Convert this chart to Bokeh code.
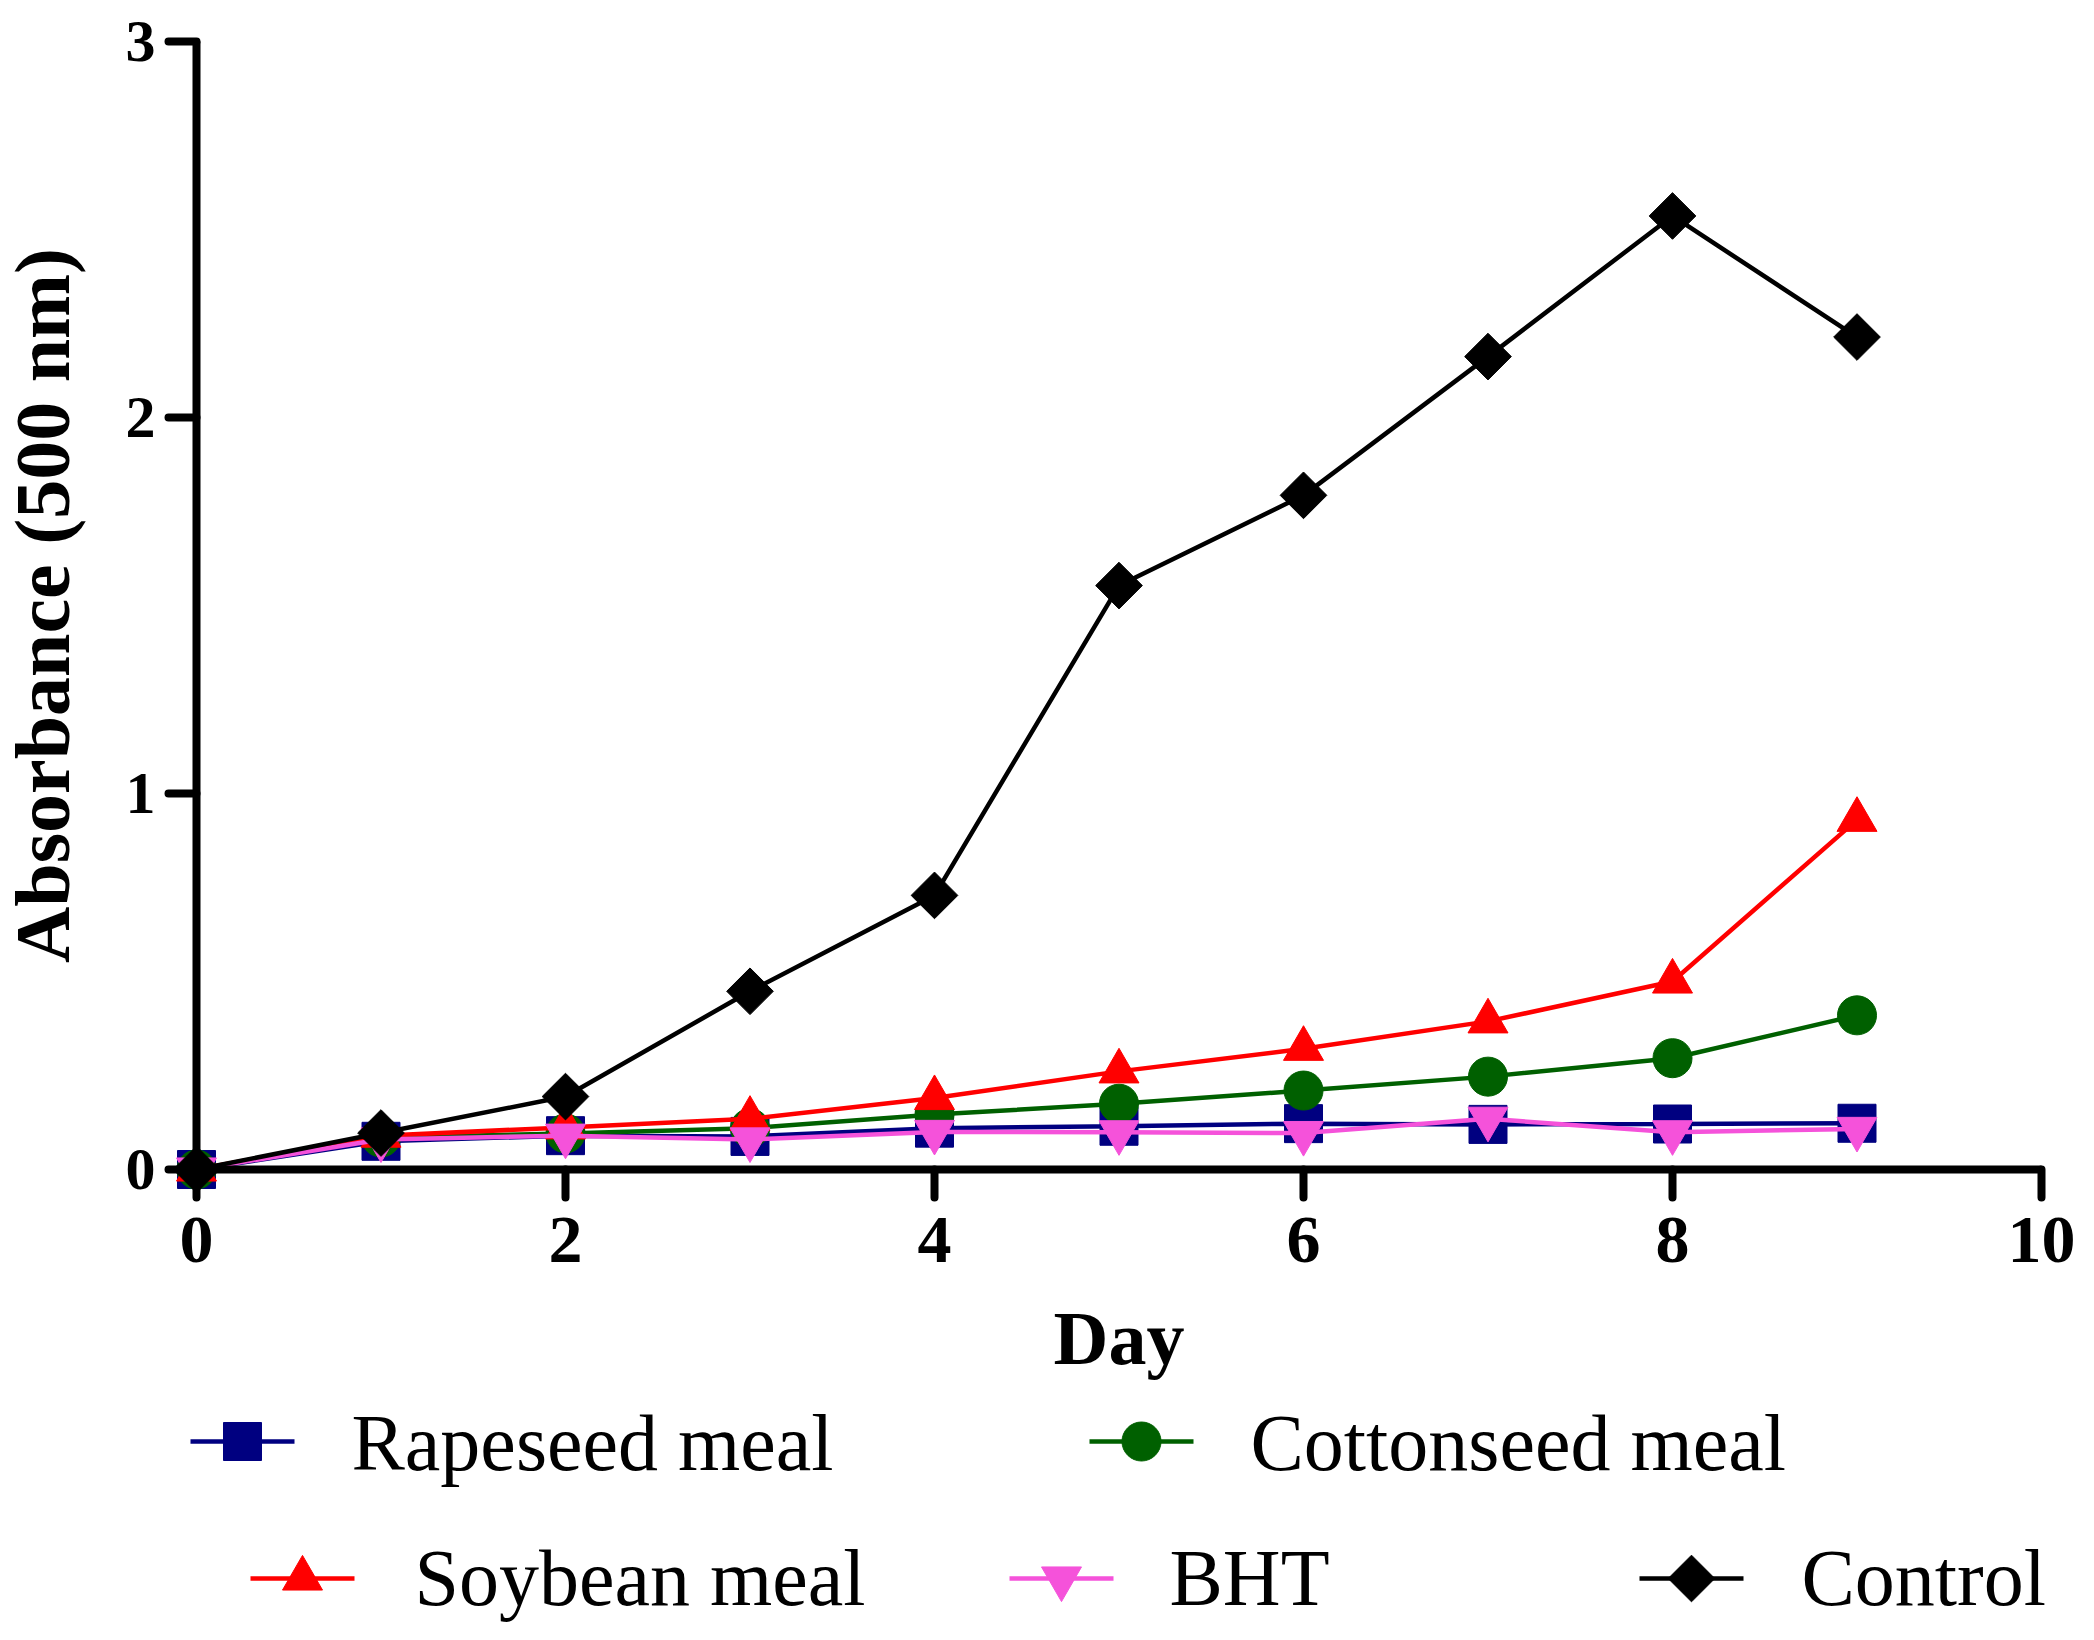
import math
from bokeh.plotting import figure
from bokeh.models import Range1d, FixedTicker
from bokeh.embed import file_html
from bokeh.resources import INLINE
from bokeh.core.properties import value

# ---- data ----
days = [0, 1, 2, 3, 4, 5, 6, 7, 8, 9]
rapeseed = [0.0, 0.075, 0.090, 0.088, 0.110, 0.115, 0.122, 0.120, 0.121, 0.123]
cottonseed = [0.0, 0.085, 0.096, 0.110, 0.146, 0.175, 0.210, 0.247, 0.296, 0.410]
soybean = [0.0, 0.090, 0.112, 0.135, 0.190, 0.261, 0.321, 0.394, 0.500, 0.930]
bht = [0.0, 0.080, 0.090, 0.080, 0.100, 0.099, 0.097, 0.135, 0.099, 0.108]
control = [0.0, 0.097, 0.194, 0.474, 0.729, 1.553, 1.793, 2.162, 2.536, 2.214]

series_names = ["Rapeseed meal", "Cottonseed meal", "Soybean meal", "BHT", "Control"]
series_values = [rapeseed, cottonseed, soybean, bht, control]
x_ticks = [0, 2, 4, 6, 8, 10]
y_ticks = [0, 1, 2, 3]
x_label = "Day"
y_label = "Absorbance (500 nm)"

# ---- styles ----
colors = ["#000080", "#006000", "#FF0000", "#F552DA", "#000000"]
markers = ["square", "circle", "triangle", "inverted_triangle", "square"]
sizes = [38, 39, 40, 40, 33]
angles = [0, 0, 0, 0, math.pi / 4]
SERIF = "Liberation Serif"

# ---- layout geometry (canvas pixels) ----
W = 2094
H = 1636
X0_PX = 196.0      # where day 0 sits
PX_PER_X = 184.5   # pixels per day
Y0_PX = 1169.0     # where absorbance 0 sits
PX_PER_Y = 376.0   # pixels per absorbance unit


def px_x(px):
    return (px - X0_PX) / PX_PER_X


def px_y(py):
    return (Y0_PX - py) / PX_PER_Y


p = figure(width=W, height=H,
           x_range=Range1d(px_x(0), px_x(W)), y_range=Range1d(px_y(H), px_y(0)),
           output_backend="svg", toolbar_location=None,
           min_border=0, min_border_left=0, min_border_right=0,
           min_border_top=0, min_border_bottom=0)
p.xgrid.visible = False
p.ygrid.visible = False
p.outline_line_color = None
p.background_fill_color = "white"

for name, vals, c, m, s, a in zip(series_names, series_values, colors, markers, sizes, angles):
    p.line(days, vals, line_color=c, line_width=4.5)
    p.scatter(days, vals, marker=m, size=s, angle=a, fill_color=c, line_color=c)

for ax in (p.xaxis[0], p.yaxis[0]):
    ax.fixed_location = 0
    ax.axis_line_width = 8
    ax.axis_line_color = "black"
    ax.major_tick_line_width = 8
    ax.major_tick_line_cap = "round"
    ax.major_tick_out = 28
    ax.major_tick_in = 0
    ax.minor_tick_line_color = None
    ax.major_label_text_font = SERIF
    ax.major_label_text_font_style = "bold"
    ax.major_label_text_color = "black"
    ax.axis_label_text_font = SERIF
    ax.axis_label_text_font_style = "bold"
    ax.axis_label_text_color = "black"

p.xaxis.bounds = (0, 10)
p.yaxis.bounds = (0, 3)
p.xaxis.ticker = FixedTicker(ticks=x_ticks)
p.yaxis.ticker = FixedTicker(ticks=y_ticks)
p.xaxis.major_label_text_font_size = "68px"
p.yaxis.major_label_text_font_size = "60px"
p.xaxis.major_label_standoff = 20
p.yaxis.major_label_standoff = 13
p.xaxis.axis_label = x_label
p.yaxis.axis_label = y_label
p.xaxis.axis_label_text_font_size = "76px"
p.yaxis.axis_label_text_font_size = "78px"
p.xaxis.axis_label_standoff = 31
p.yaxis.axis_label_standoff = 37

# ---- legend below the axis (layout positions in canvas pixels) ----
leg_marker_x = [242, 1141, 302, 1061, 1691]
leg_text_x = [351, 1250, 414, 1169, 1801]
leg_line_y = [1441, 1441, 1578, 1578, 1578]
leg_text_y = [1442, 1442, 1577, 1577, 1577]
leg_half = 52

for name, c, m, s, a, mx, tx, ly, ty in zip(series_names, colors, markers, sizes, angles,
                                            leg_marker_x, leg_text_x, leg_line_y, leg_text_y):
    p.segment(x0=[px_x(mx - leg_half)], y0=[px_y(ly)], x1=[px_x(mx + leg_half)], y1=[px_y(ly)],
              line_color=c, line_width=4.5)
    p.scatter([px_x(mx)], [px_y(ly)], marker=m, size=s, angle=a, fill_color=c, line_color=c)
    p.text(x=[px_x(tx)], y=[px_y(ty)], text=[name], text_font=value(SERIF), text_font_size="80px",
           text_color="black", text_baseline="alphabetic", text_align="left")

open("out.html", "w").write(file_html(p, INLINE))
